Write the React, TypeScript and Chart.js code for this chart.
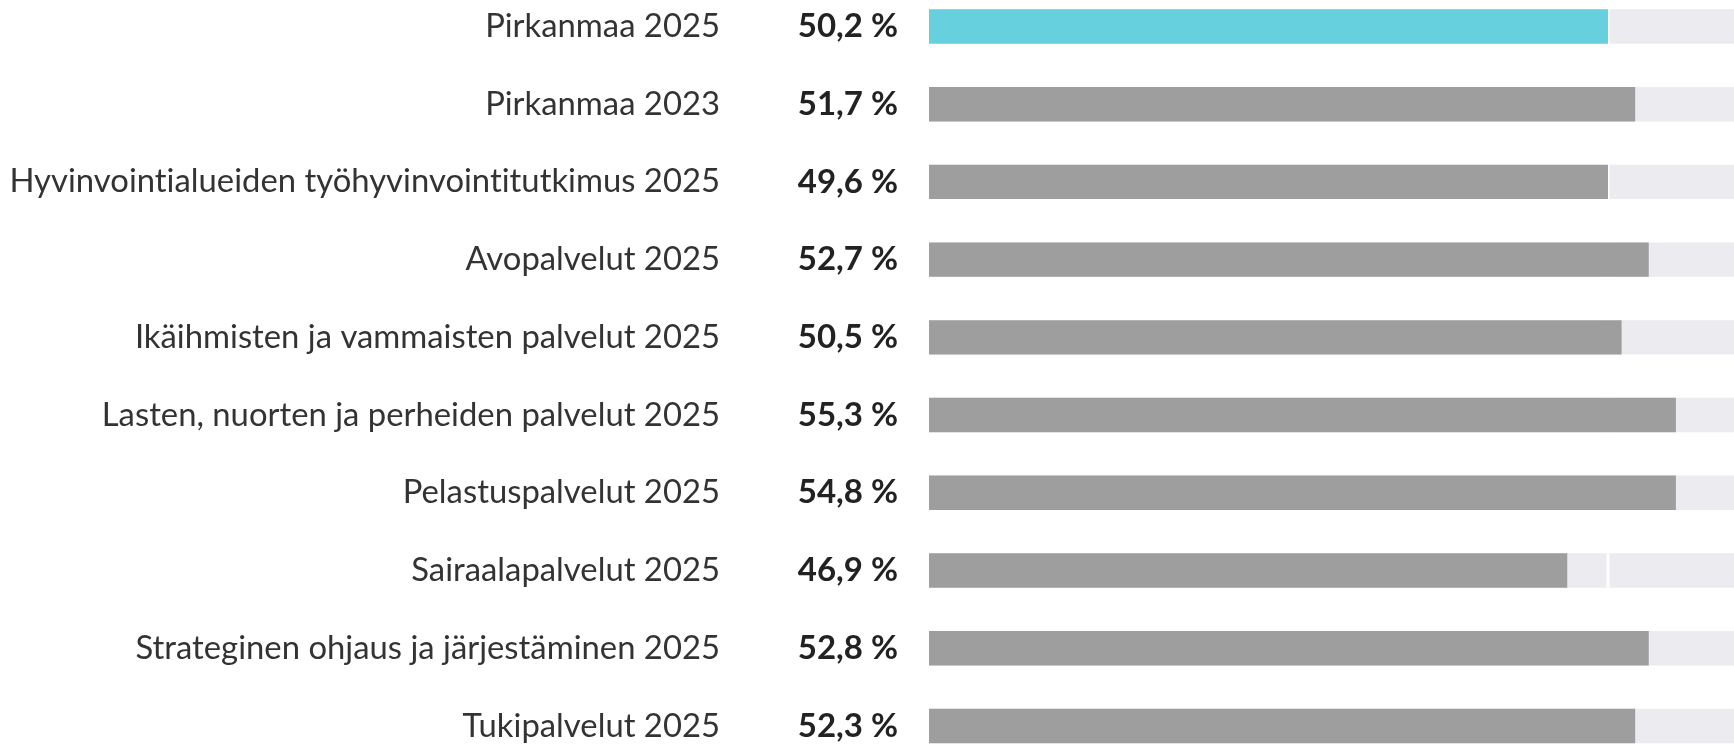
import React, { useEffect, useRef } from "react";
import { Chart, registerables } from "chart.js";

Chart.register(...registerables);

const categories = [
  "Pirkanmaa 2025",
  "Pirkanmaa 2023",
  "Hyvinvointialueiden työhyvinvointitutkimus 2025",
  "Avopalvelut 2025",
  "Ikäihmisten ja vammaisten palvelut 2025",
  "Lasten, nuorten ja perheiden palvelut 2025",
  "Pelastuspalvelut 2025",
  "Sairaalapalvelut 2025",
  "Strateginen ohjaus ja järjestäminen 2025",
  "Tukipalvelut 2025",
];

const values = [50.2, 51.7, 49.6, 52.7, 50.5, 55.3, 54.8, 46.9, 52.8, 52.3];

const trackValues = [100, 100, 100, 100, 100, 100, 100, 100, 100, 100];

const barColors = [
  "#67d0df",
  "#9e9e9e",
  "#9e9e9e",
  "#9e9e9e",
  "#9e9e9e",
  "#9e9e9e",
  "#9e9e9e",
  "#9e9e9e",
  "#9e9e9e",
  "#9e9e9e",
];

const FONT = "Lato, 'Noto Sans', sans-serif";

const formatValue = (v: number) => v.toFixed(1).replace(".", ",") + " %";

export default function App() {
  const ref = useRef<HTMLCanvasElement | null>(null);

  useEffect(() => {
    if (!ref.current) return;
    const barValues = values.map((v) => Math.round(v));
    const markerValue = Math.round(values[0]);

    const noLigaturePlugin = {
      id: "noLigatures",
      beforeDraw(chart: any) {
        const ctx = chart.ctx as any;
        ctx.letterSpacing = "0.01px";
        ctx.textRendering = "optimizeSpeed";
      },
    };

    const markerPlugin = {
      id: "marker",
      beforeDatasetDraw(chart: any, args: any) {
        if (args.index !== 0) return;
        const meta = chart.getDatasetMeta(0);
        const x = chart.scales.x.getPixelForValue(markerValue);
        const ctx = chart.ctx;
        ctx.save();
        ctx.fillStyle = "#ffffff";
        meta.data.forEach((el: any) => {
          const h = el.height;
          ctx.fillRect(x - 1.5, el.y - h / 2, 3, h);
        });
        ctx.restore();
      },
    };

    const valueLabelPlugin = {
      id: "valueLabels",
      afterDatasetsDraw(chart: any) {
        const meta = chart.getDatasetMeta(0);
        const ctx = chart.ctx;
        const left = chart.chartArea.left;
        ctx.save();
        ctx.font = `bold 33px ${FONT}`;
        ctx.fillStyle = "#222222";
        ctx.textAlign = "right";
        ctx.textBaseline = "middle";
        meta.data.forEach((el: any, i: number) => {
          ctx.fillText(formatValue(values[i]), left - 31, el.y);
        });
        ctx.restore();
      },
    };

    const chart = new Chart(ref.current, {
      type: "bar",
      data: {
        labels: categories,
        datasets: [
          {
            data: barValues,
            backgroundColor: barColors,
            borderWidth: 0,
            grouped: false,
            barPercentage: 0.4426,
            categoryPercentage: 1,
          },
          {
            data: trackValues,
            backgroundColor: "#ebebf0",
            borderWidth: 0,
            grouped: false,
            barPercentage: 0.4426,
            categoryPercentage: 1,
          },
        ],
      },
      options: {
        indexAxis: "y",
        responsive: true,
        maintainAspectRatio: false,
        animation: false,
        devicePixelRatio: 1,
        layout: { padding: { top: 7.6, bottom: 5.2, left: 0, right: 13 } },
        plugins: {
          legend: { display: false },
          tooltip: { enabled: false },
        },
        scales: {
          x: {
            display: false,
            min: 0,
            max: 100,
          },
          y: {
            type: "category",
            grid: { display: false, drawTicks: false, tickLength: 0 },
            border: { display: false },
            ticks: {
              padding: 209,
              color: "#333333",
              font: { family: FONT, size: 32.8 },
            },
            afterFit(scale: any) {
              scale.width = 929;
              scale.paddingTop = 0;
              scale.paddingBottom = 0;
            },
          },
        },
      },
      plugins: [noLigaturePlugin, markerPlugin, valueLabelPlugin],
    });

    return () => chart.destroy();
  }, []);

  return (
    <div
      style={{
        position: "fixed",
        left: 0,
        top: 0,
        width: 1734,
        height: 744,
        overflow: "hidden",
        background: "#ffffff",
      }}
    >
      <div style={{ position: "absolute", left: 0, top: -20, width: 2300, height: 790 }}>
        <canvas ref={ref} />
      </div>
    </div>
  );
}
